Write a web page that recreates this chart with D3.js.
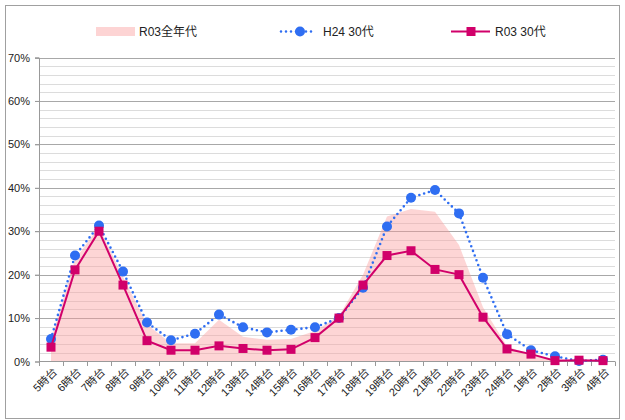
<!DOCTYPE html>
<html><head><meta charset="utf-8">
<script src="https://cdn.jsdelivr.net/npm/d3@7"></script>
<style>body{margin:0;background:#fff;}svg{display:block;}</style>
</head><body>
<script>
const categories = ["5時台","6時台","7時台","8時台","9時台","10時台","11時台","12時台","13時台","14時台","15時台","16時台","17時台","18時台","19時台","20時台","21時台","22時台","23時台","24時台","1時台","2時台","3時台","4時台"];
const r03All = [5.0,23.5,31.0,19.5,8.5,4.2,4.2,9.6,5.7,5.0,5.2,7.0,10.5,20.0,33.4,35.1,34.5,26.8,12.5,3.5,1.5,0.6,0.3,0.2];
const h24_30 = [5.2,24.4,31.3,20.7,9.0,4.9,6.4,10.8,7.9,6.7,7.3,7.9,10.0,17.0,31.1,37.7,39.5,34.1,19.3,6.3,2.6,1.2,0.1,0.4];
const r03_30 = [3.3,21.1,30.0,17.6,4.8,2.6,2.6,3.6,3.0,2.6,2.8,5.5,10.0,17.6,24.4,25.5,21.2,20.0,10.2,2.9,1.7,0.2,0.3,0.2];
const yTicks = [0,10,20,30,40,50,60,70];
const seriesNames = ["R03全年代","H24 30代","R03 30代"];

const W=625,H=420;
const font = "'Liberation Sans','Noto Sans CJK JP',sans-serif";
const svg = d3.select("body").append("svg").attr("width",W).attr("height",H);

// outer frame
svg.append("rect").attr("x",5.5).attr("y",5.5).attr("width",614).attr("height",413)
  .attr("fill","#fff").attr("stroke","#a0a0a0").attr("stroke-width",1);

const x = d3.scaleBand().domain(categories).range([39,615]).padding(0);
const y = d3.scaleLinear().domain([0,70]).range([361.5,57.5]);
const cx = c => x(c)+x.bandwidth()/2;

// minor grid
const minor = d3.range(0,71,2).filter(v=>v%10!==0);
svg.append("g").selectAll("line").data(minor).join("line")
  .attr("x1",39).attr("x2",615).attr("y1",d=>Math.round(y(d))+0.5).attr("y2",d=>Math.round(y(d))+0.5)
  .attr("stroke","#dcdcdc").attr("stroke-width",1);
svg.append("g").selectAll("line").data(yTicks.filter(v=>v>0)).join("line")
  .attr("x1",35).attr("x2",615).attr("y1",d=>Math.round(y(d))+0.5).attr("y2",d=>Math.round(y(d))+0.5)
  .attr("stroke","#a8a8a8").attr("stroke-width",1);

// area
const area = d3.area().x((d,i)=>cx(categories[i])).y0(y(0)).y1(d=>y(d));
svg.append("path").datum(r03All).attr("d",area).attr("fill","#fb9c9c").attr("opacity",0.42);

// axes
const yAxis = svg.append("g").attr("transform","translate(39,0)")
  .call(d3.axisLeft(y).tickValues(yTicks).tickSize(4).tickFormat(d=>d+"%"));
yAxis.select(".domain").attr("stroke","#999");
yAxis.selectAll(".tick line").attr("stroke","#999");
yAxis.selectAll("text").attr("font-family",font).attr("font-size",11).attr("fill","#222").attr("x",-9);

const bx = svg.append("g");
bx.append("line").attr("x1",39).attr("x2",615).attr("y1",361.5).attr("y2",361.5).attr("stroke","#999");
bx.selectAll("line.t").data(d3.range(categories.length+1)).join("line").attr("class","t")
  .attr("x1",i=>39+i*x.bandwidth()+0.5).attr("x2",i=>39+i*x.bandwidth()+0.5)
  .attr("y1",361.5).attr("y2",366).attr("stroke","#999");
bx.selectAll("text").data(categories).join("text")
  .attr("transform",d=>`translate(${cx(d)+4},${370}) rotate(-45)`)
  .attr("text-anchor","end").attr("dy","0.35em")
  .attr("font-family",font).attr("font-size",11).attr("fill","#222").text(d=>d);

// H24 line
const line = d3.line().x((d,i)=>cx(categories[i])).y(d=>y(d));
const blue="#2f6ef2", mag="#d1006a";
svg.append("path").datum(h24_30).attr("d",line).attr("fill","none").attr("stroke",blue)
  .attr("stroke-width",2.6).attr("stroke-dasharray","0 5").attr("stroke-linecap","round");
svg.append("g").selectAll("circle").data(h24_30).join("circle")
  .attr("cx",(d,i)=>cx(categories[i])).attr("cy",d=>y(d)).attr("r",5).attr("fill",blue);

// R03 30
svg.append("path").datum(r03_30).attr("d",line).attr("fill","none").attr("stroke",mag).attr("stroke-width",2);
svg.append("g").selectAll("rect").data(r03_30).join("rect")
  .attr("x",(d,i)=>cx(categories[i])-4.5).attr("y",d=>y(d)-4.5).attr("width",9).attr("height",9).attr("fill",mag);

// legend
const lg = svg.append("g").attr("font-family",font).attr("font-size",12).attr("fill","#222");
lg.append("rect").attr("x",96).attr("y",27).attr("width",39).attr("height",9).attr("fill","#fdd4d4");
lg.append("text").attr("x",139).attr("y",31.5).attr("dy","0.35em").text(seriesNames[0]);
lg.append("line").attr("x1",281).attr("x2",316).attr("y1",31.5).attr("y2",31.5).attr("stroke",blue)
  .attr("stroke-width",2.6).attr("stroke-dasharray","0 5").attr("stroke-linecap","round");
lg.append("circle").attr("cx",300).attr("cy",31.5).attr("r",5).attr("fill",blue);
lg.append("text").attr("x",323).attr("y",31.5).attr("dy","0.35em").text(seriesNames[1]);
lg.append("line").attr("x1",451).attr("x2",490).attr("y1",31.5).attr("y2",31.5).attr("stroke",mag).attr("stroke-width",2);
lg.append("rect").attr("x",466.5).attr("y",27).attr("width",9).attr("height",9).attr("fill",mag);
lg.append("text").attr("x",495).attr("y",31.5).attr("dy","0.35em").text(seriesNames[2]);
</script>
</body></html>
